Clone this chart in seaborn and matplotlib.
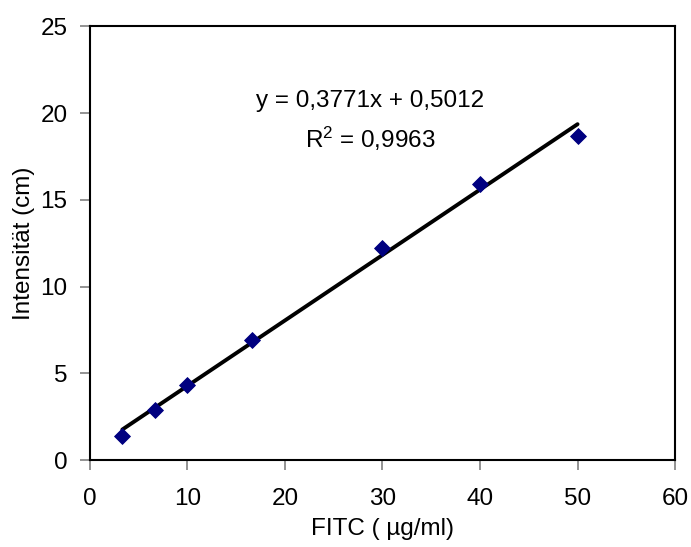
import numpy as np
import pandas as pd
import seaborn as sns
from matplotlib import pyplot as plt

# Messwerte (FITC-Kalibrierung)
fitc = [3.33, 6.67, 10.0, 16.67, 30.0, 40.0, 50.0]
intensitaet = [1.4, 2.9, 4.3, 6.9, 12.2, 15.9, 18.7]

# lineare Trendlinie laut Diagramm
slope = 0.3771
intercept = 0.5012
r2 = 0.9963

df = pd.DataFrame({'FITC': fitc, 'Intensitaet': intensitaet})
trend = pd.DataFrame({'FITC': [min(fitc), max(fitc)]})
trend['fit'] = slope * trend['FITC'] + intercept

sns.set_style('white')
plt.rcParams['font.family'] = ['Liberation Sans', 'DejaVu Sans']
plt.rcParams['text.color'] = 'black'
plt.rcParams['axes.labelcolor'] = 'black'
plt.rcParams['xtick.labelcolor'] = 'black'
plt.rcParams['ytick.labelcolor'] = 'black'

fs = 17.5

fig = plt.figure(figsize=(6.91, 5.47), dpi=100)
ax = fig.add_axes([0.130, 0.159, 0.847, 0.793])

sns.lineplot(data=trend, x='FITC', y='fit', color='black', linewidth=2.8, ax=ax)
sns.scatterplot(data=df, x='FITC', y='Intensitaet', marker='D', s=65,
                color='#000080', edgecolor='#000080', zorder=3, ax=ax)

ax.set_xlim(0, 60)
ax.set_ylim(0, 25)
ax.set_xticks(np.arange(0, 61, 10))
ax.set_yticks(np.arange(0, 26, 5))
ax.tick_params(axis='both', direction='out', length=7, width=1.2, color='#808080',
               labelsize=fs, pad=9, bottom=True, left=True)
ax.tick_params(axis='x', pad=13)
for sp in ax.spines.values():
    sp.set_color('black')
    sp.set_linewidth(1.5)

ax.set_xlabel('FITC ( µg/ml)', fontsize=fs, labelpad=6)
ax.set_ylabel('Intensität (cm)', fontsize=fs, labelpad=4)

eq = 'y = ' + f'{slope:.4f}'.replace('.', ',') + 'x + ' + f'{intercept:.4f}'.replace('.', ',')
ax.text(28.7, 20.7, eq, fontsize=fs, ha='center', va='center')
ax.text(28.7, 18.5, '$\\mathregular{R^2}$ = ' + f'{r2:.4f}'.replace('.', ','),
        fontsize=fs, ha='center', va='center')

fig.savefig('out.png', dpi=100)
